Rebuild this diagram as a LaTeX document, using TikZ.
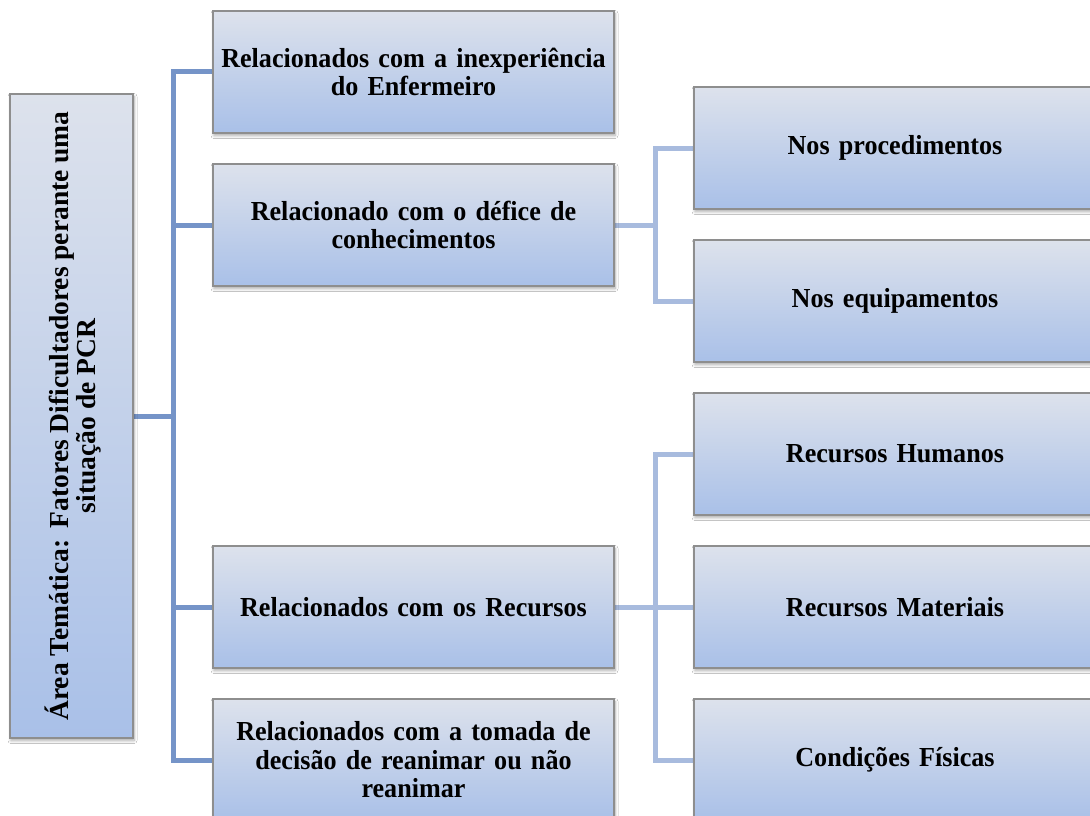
\documentclass[tikz,border=0pt]{standalone}
\usepackage{fontspec}
\setmainfont{Liberation Serif}
\newfontfamily\boxfont[FakeStretch=0.95,WordSpace=0.85]{Liberation Serif}
\usetikzlibrary{shadows.blur}
\definecolor{boxtop}{HTML}{DDE2EC}
\definecolor{boxbot}{HTML}{A9C0E8}
\definecolor{boxline}{HTML}{8E8E8E}
\definecolor{linkdark}{HTML}{7594C8}
\definecolor{linklight}{HTML}{A8BBDE}
\tikzset{
  topic/.style={rectangle, draw=boxline, line width=1.1pt, top color=boxtop, bottom color=boxbot,
    blur shadow={shadow xshift=1pt, shadow yshift=-2.5pt, shadow blur steps=6, shadow blur radius=3pt, shadow opacity=35},
    align=center, inner sep=4pt, font=\boxfont\fontsize{27.5}{28.5}\selectfont\bfseries},
  midbox/.style={topic, minimum width=401pt, minimum height=122pt, text width=390pt},
  rightbox/.style={topic, minimum width=402pt, minimum height=122pt, text width=390pt},
  sidetext/.style={align=center, inner sep=0pt, font=\fontsize{27.5}{27}\selectfont\bfseries},
  linkA/.style={draw=linkdark, line width=5pt},
  linkB/.style={draw=linklight, line width=5pt}
}
\begin{document}
\begin{tikzpicture}[x=1pt,y=-1pt]
\useasboundingbox (0,0) rectangle (1090,816);
\clip (0,0) rectangle (1090,816);
\fill[white] (0,0) rectangle (1090,816);
% junction points
\coordinate (j1) at (173,416);
\coordinate (j2) at (655,225);
\coordinate (j3) at (655,607);
% connectors
\draw[linkA] (71.5,416) -- (j1);
\draw[linkA] (j1) |- (413.5,72);
\draw[linkA] (j1) |- (413.5,225);
\draw[linkA] (j1) |- (413.5,607);
\draw[linkA] (j1) |- (413.5,760);
\draw[linkB] (413.5,225) -- (j2);
\draw[linkB] (j2) |- (895,148);
\draw[linkB] (j2) |- (895,301);
\draw[linkB] (413.5,607) -- (j3);
\draw[linkB] (j3) |- (895,454);
\draw[linkB] (j3) |- (895,607);
\draw[linkB] (j3) |- (895,760);
% left box
\node[topic, minimum width=123pt, minimum height=644pt] (L) at (71.5,416) {};
\node[sidetext, rotate=90] (Lt) at ([xshift=2pt]L.center)
  {Área Temática:\ \,Fatores Dificultadores perante uma\\ situação de PCR};
% middle boxes
\node[midbox] (m1) at (413.5,72) {Relacionados com a inexperiência\\ do Enfermeiro};
\node[midbox] (m2) at (413.5,225) {Relacionado com o défice de\\ conhecimentos};
\node[midbox] (m3) at (413.5,607) {Relacionados com os Recursos};
\node[midbox] (m4) at (413.5,760) {Relacionados com a tomada de\\ decisão de reanimar ou não\\ reanimar};
% right boxes
\node[rightbox] (r1) at (895,148) {Nos procedimentos};
\node[rightbox] (r2) at (895,301) {Nos equipamentos};
\node[rightbox] (r3) at (895,454) {Recursos Humanos};
\node[rightbox] (r4) at (895,607) {Recursos Materiais};
\node[rightbox] (r5) at (895,760) {Condições Físicas};
\end{tikzpicture}
\end{document}
